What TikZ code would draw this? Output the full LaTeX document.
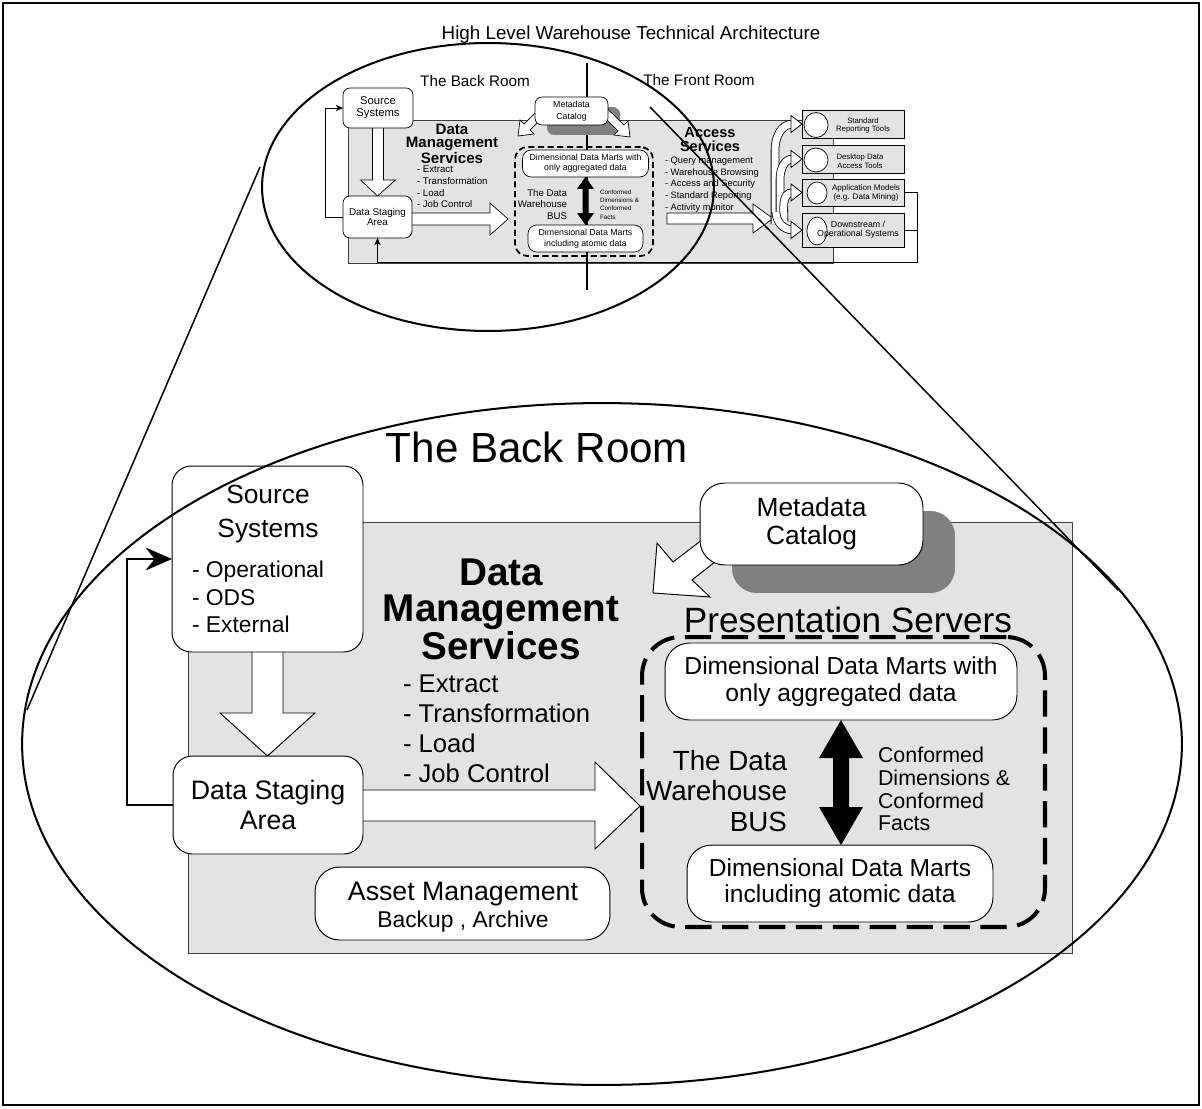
\documentclass[tikz,border=0pt]{standalone}
\usepackage{fontspec}
\setmainfont{Liberation Sans}
\usetikzlibrary{calc,arrows.meta}
\definecolor{panel}{HTML}{E3E3E3}
\definecolor{shade}{HTML}{808080}
\newcommand{\sz}[2]{\fontsize{#1}{#2}\selectfont}
\pgfdeclarelayer{bg}
\pgfdeclarelayer{mid}
\pgfdeclarelayer{top}
\pgfsetlayers{bg,mid,main,top}
\begin{document}
\begin{tikzpicture}[x=0.02cm, y=-0.02cm,
  every node/.style={inner sep=0pt, outer sep=0pt},
  wbox/.style={draw, fill=white, line width=0.55pt, align=center},
  swbox/.style={draw, fill=white, line width=0.4pt, align=center},
  blockarrow/.style={draw, fill=white, line width=0.55pt, line join=miter},
  sblockarrow/.style={draw, fill=white, line width=0.4pt, line join=miter},
  feedback/.style={line width=1.1pt, -{Stealth[length=15pt,width=13pt,inset=5pt]}},
  sfeedback/.style={line width=0.45pt, -{Stealth[length=4pt,width=3.5pt,inset=1pt]}},
  sline/.style={line width=0.45pt},
  panelrect/.style={fill=panel, draw=black!75, line width=0.5pt},
  frameline/.style={line width=1.1pt},
  ellipseline/.style={line width=1.15pt},
  zoomline/.style={line width=0.85pt},
  toolbox/.style={draw, fill=panel, line width=0.4pt, minimum width=2.04cm},
  toolicon/.style={draw, fill=white, line width=0.4pt},
  curv/.style={double=white, double distance=4pt, line width=0.45pt},
  curvhead/.style={draw, fill=white, line width=0.45pt, line join=miter},
  shadowbox/.style={fill=shade},
  presbox/.style={draw, line width=2.3pt, dash pattern=on 15pt off 6pt},
  spresbox/.style={draw, line width=1pt, dash pattern=on 3.5pt off 2pt}
]
\useasboundingbox (0,0) rectangle (1202,1108);
\draw[frameline] (3,3) rectangle (1199,1105);

% ================= overview of the whole architecture =================
\node[font=\sz{10.7}{13}] (title) at (631,35) {High Level Warehouse Technical Architecture};
\node[font=\sz{8.7}{10}] (sback) at (475,81) {The Back Room};
\node[font=\sz{8.7}{10}] (sfront) at (699,80) {The Front Room};

\coordinate (divtop) at (587,63);
\coordinate (divbot) at (587,290);
\begin{pgfonlayer}{bg}
  \draw[panelrect, line width=0.4pt] (348,120) rectangle (833,263);
  \draw[line width=0.6pt] (divtop) -- (divbot);
  \node[shadowbox, rounded corners=4pt, minimum width=1.46cm, minimum height=0.56cm] (smetashade) at (583.5,121) {};
\end{pgfonlayer}

% back room boxes
\node[swbox, rounded corners=4pt, minimum width=1.40cm, minimum height=0.80cm, font=\sz{6.4}{6.8}] (ssrc) at (378,108) {Source\\Systems};
\node[swbox, rounded corners=4pt, minimum width=1.38cm, minimum height=0.84cm, font=\sz{5.6}{5.7}] (sstg) at (377.5,217) {Data Staging\\Area};
\node[swbox, rounded corners=4pt, minimum width=1.46cm, minimum height=0.56cm, font=\sz{5}{6.8}] (smeta) at (571.5,111) {Metadata\\Catalog};
\node[spresbox, rounded corners=7pt, minimum width=2.76cm, minimum height=2.18cm] (spres) at (584,201.5) {};
\node[swbox, rounded corners=5pt, minimum width=2.52cm, minimum height=0.54cm, font=\sz{5}{5.7}] (sagg) at (585.5,163.5) {Dimensional Data Marts with\\only aggregated data};
\node[swbox, rounded corners=5pt, minimum width=2.30cm, minimum height=0.54cm, font=\sz{5}{6.3}] (satom) at (585.5,238.5) {Dimensional Data Marts\\including atomic data};

\node[font=\bfseries\sz{8.6}{7.6}, align=center] (sdms) at (452,144) {Data\\Management\\Services};
\node[font=\sz{5.5}{6.6}, align=left, anchor=west] (sdmslist) at (417,187) {- Extract\\- Transformation\\- Load\\- Job Control};
\node[font=\sz{5.5}{6.5}, align=right, anchor=east] (sbus) at (567,204.5) {The Data\\Warehouse\\BUS};
\node[font=\sz{3.6}{4.7}, align=left, anchor=west] (sconf) at (600,204.5) {Conformed\\Dimensions \&\\Conformed\\Facts};

% bus arrow between the two mart layers
\coordinate (sda1) at (sagg.south);
\coordinate (sda2) at (sagg.south |- satom.north);
\fill (sda1) -- ++(8.5,12) -- ++(-5.5,0) -- ($(sda2)+(3,-12)$) -- ++(5.5,0) -- (sda2)
      -- ++(-8.5,-12) -- ++(5.5,0) -- ($(sda1)+(-3,12)$) -- ++(-5.5,0) -- cycle;

% front room
\node[font=\bfseries\sz{8.3}{7.6}, align=center] (sacc) at (710,139.5) {Access\\Services};
\node[font=\sz{5.3}{6.66}, align=left, anchor=west] (sacclist) at (665,184.5) {- Query management\\- Warehouse Browsing\\- Access and Security\\- Standard Reporting\\- Activity monitor};

\node[toolbox, minimum height=0.56cm] (st1) at (853,124) {};
\node[toolbox, minimum height=0.56cm] (st2) at (853,159) {};
\node[toolbox, minimum height=0.54cm] (st3) at (853,192.5) {};
\node[toolbox, minimum height=0.68cm] (st4) at (853,230) {};
\draw[toolicon] ($(st1.west)+(14,1)$) ellipse [x radius=0.24cm, y radius=0.25cm];
\draw[toolicon] ($(st2.west)+(14,1)$) ellipse [x radius=0.24cm, y radius=0.24cm];
\draw[toolicon] ($(st3.west)+(15,0.5)$) ellipse [x radius=0.2cm, y radius=0.22cm];
\draw[toolicon] ($(st4.west)+(15,1)$) ellipse [x radius=0.2cm, y radius=0.28cm];
\node[font=\sz{4.4}{5.1}, align=center] (st1t) at (863,125.5) {Standard\\Reporting Tools};
\node[font=\sz{4.4}{5.1}, align=center] (st2t) at (860,161) {Desktop Data\\Access Tools};
\node[font=\sz{4.6}{5.1}, align=center] (st3t) at (866,193) {Application Models\\(e.g. Data Mining)};
\node[font=\sz{5}{5.3}, align=center] (st4t) at (858,229.5) {Downstream /\\Operational Systems};

% fan of curved arrows into the end-user tools
\coordinate (fan) at (775,220);
\draw[curv] ($(fan)+(0,4)$) -- ($(fan)+(0,-70)$) to[out=90,in=180] ($(st1.west)+(-9,0)$);
\draw[curvhead] ($(st1.west)+(-11,-8.5)$) -- (st1.west) -- ($(st1.west)+(-11,8.5)$) -- cycle;
\draw[curv] ($(fan)+(5,4)$) -- ($(fan)+(5,-40)$) to[out=90,in=180] ($(st2.west)+(-9,0)$);
\draw[curvhead] ($(st2.west)+(-11,-8.5)$) -- (st2.west) -- ($(st2.west)+(-11,8.5)$) -- cycle;
\draw[curv] ($(fan)+(9,2)$) to[out=90,in=180] ($(st3.west)+(-9,0)$);
\draw[curvhead] ($(st3.west)+(-11,-8.5)$) -- (st3.west) -- ($(st3.west)+(-11,8.5)$) -- cycle;
\draw[curv] ($(fan)+(1,-8)$) to[out=-90,in=180] ($(st4.west)+(-9,0)$);
\draw[curvhead] ($(st4.west)+(-11,-8.5)$) -- (st4.west) -- ($(st4.west)+(-11,8.5)$) -- cycle;

% feedback loops
\draw[sfeedback] (sstg.west) -- ++(-18,0) |- (ssrc.west);
\draw[sline] (st4.east) -- ++(13,0);
\draw[sfeedback] (st3.east) -- ++(13,0) |- ($(sstg.south)+(0,24.5)$) -- (sstg.south);

\begin{pgfonlayer}{mid}
  % extract / load arrows
  \draw[sblockarrow] ($(ssrc.south)+(-5.5,0)$) -- ++(0,52) -- ++(-12,0) -- (sstg.north)
        -- ($(ssrc.south)+(17.5,52)$) -- ++(-12,0) -- ++(0,-52);
  \draw[sblockarrow] ($(sstg.east)+(0,-4)$) -- ++(78,0) -- ++(0,-10) -- ($(sstg.east)+(96,2)$)
        -- ($(sstg.east)+(78,18)$) -- ++(0,-10) -- ($(sstg.east)+(0,8)$);
  % metadata arrows
  \draw[sblockarrow] ($(smeta.south west)+(3,-15)$) -- ($(smeta.south west)+(-11,-1)$) -- ($(smeta.south west)+(-15,-5)$)
        -- ($(smeta.south west)+(-17,11)$) -- ($(smeta.south west)+(-1,9)$) -- ($(smeta.south west)+(-5,5)$)
        -- ($(smeta.south west)+(9,-9)$);
  \draw[sblockarrow] ($(smeta.south east)+(-2.6,-18.2)$) -- ($(smeta.south east)+(16,0)$) -- ($(smeta.south east)+(20,-4)$)
        -- ($(smeta.south east)+(22,12)$) -- ($(smeta.south east)+(6,10)$) -- ($(smeta.south east)+(10,6)$)
        -- ($(smeta.south east)+(-8.2,-12.6)$);
  % access arrow
  \coordinate (sacc0) at (667,218.5);
  \draw[sblockarrow] ($(sacc0)+(0,-5.5)$) -- ++(86,0) -- ++(0,-9) -- ($(sacc0)+(106,0)$)
        -- ($(sacc0)+(86,14.5)$) -- ++(0,-9) -- ($(sacc0)+(0,5.5)$) -- cycle;
\end{pgfonlayer}

% ================= enlarged back room =================
\node[font=\sz{24}{28}] (bigroom) at (537,447) {The Back Room};

\begin{pgfonlayer}{bg}
  \draw[panelrect] (188,522) rectangle (1072,953);
  \node[shadowbox, rounded corners=14pt, minimum width=4.46cm, minimum height=1.64cm] (metashade) at (843.5,552) {};
\end{pgfonlayer}

\node[wbox, rounded corners=11pt, minimum width=3.82cm, minimum height=3.72cm] (src) at (267.5,559) {};
\node[font=\sz{15}{19.8}, align=center] (srctitle) at (268,514) {Source\\Systems};
\node[font=\sz{13}{15.6}, align=left, anchor=west] (srclist) at (192,597) {- Operational\\- ODS\\- External};
\node[wbox, rounded corners=11pt, minimum width=3.80cm, minimum height=1.96cm, font=\sz{15.2}{17}] (stg) at (268,805) {Data Staging\\Area};
\node[wbox, rounded corners=14pt, minimum width=4.46cm, minimum height=1.64cm, font=\sz{15}{15.9}] (meta) at (811.5,524) {Metadata\\Catalog};
\node[presbox, rounded corners=22pt, minimum width=8.06cm, minimum height=5.80cm] (pres) at (843.5,782) {};
\node[wbox, rounded corners=14pt, minimum width=7.04cm, minimum height=1.54cm, font=\sz{14}{15.3}] (agg) at (841,681.5) {Dimensional Data Marts with\\only aggregated data};
\node[wbox, rounded corners=14pt, minimum width=6.12cm, minimum height=1.54cm, font=\sz{14}{14.7}] (atom) at (840,883.5) {Dimensional Data Marts\\including atomic data};
\node[wbox, rounded corners=14pt, minimum width=5.90cm, minimum height=1.46cm] (asset) at (462.5,903.5) {};
\node[font=\sz{15.2}{17}] (assetmain) at (463,894) {Asset Management};
\node[font=\sz{13}{15}] (assetsub) at (463,922) {Backup , Archive};

\node[font=\bfseries\sz{22}{20.6}, align=center] (dms) at (501,609) {Data\\Management\\Services};
\node[font=\sz{14.6}{17}, align=left, anchor=west] (dmslist) at (403,729) {- Extract\\- Transformation\\- Load\\- Job Control};
\node[font=\sz{20}{24}] (prestitle) at (848,620) {Presentation Servers};
\node[font=\sz{15.8}{17.6}, align=right, anchor=east] (bus) at (787,791) {The Data\\Warehouse\\BUS};
\node[font=\sz{12.2}{13}, align=left, anchor=west] (conf) at (878,789) {Conformed\\Dimensions \&\\Conformed\\Facts};

% bus arrow
\coordinate (da1) at (agg.south);
\coordinate (da2) at (agg.south |- atom.north);
\fill (da1) -- ++(22,38) -- ++(-14,0) -- ($(da2)+(8,-38)$) -- ++(14,0) -- (da2)
      -- ++(-22,-38) -- ++(14,0) -- ($(da1)+(-8,38)$) -- ++(-14,0) -- cycle;

% feedback from staging back to the sources
\draw[feedback] (stg.west) -- ++(-46,0) |- (src.west);

\begin{pgfonlayer}{mid}
  \draw[blockarrow] ($(src.south)+(-15.5,0)$) -- ++(0,61) -- ++(-32,0) -- ($(stg.north)+(-0.5,0)$)
        -- ($(src.south)+(47.5,61)$) -- ++(-32,0) -- ++(0,-61);
  \draw[blockarrow] ($(stg.east)+(0,-15)$) -- ++(232,0) -- ++(0,-28) -- ($(pres.west |- stg.east)+(-2,1)$)
        -- ($(stg.east)+(232,44)$) -- ++(0,-28) -- ($(stg.east)+(0,16)$);
  \draw[blockarrow] ($(meta.south west)+(53,-64)$) -- ($(meta.south west)+(-27,-3)$) -- ($(meta.south west)+(-43,-22)$)
        -- ($(meta.south west)+(-47,28)$) -- ($(meta.south west)+(10,32)$) -- ($(meta.south west)+(-8,15)$)
        -- ($(meta.south west)+(72,-48)$);
\end{pgfonlayer}

% ================= magnifier outline =================
\coordinate (z1a) at (260,167);
\coordinate (z1b) at (27,710);
\coordinate (z2a) at (650,107);
\coordinate (z2b) at (1118,590);
\begin{pgfonlayer}{top}
  \draw[ellipseline] (488,187) ellipse [x radius=4.52cm, y radius=2.88cm];
  \draw[ellipseline] (602,744) ellipse [x radius=11.6cm, y radius=6.82cm];
  \draw[zoomline] (z1a) -- (z1b);
  \draw[zoomline] (z2a) -- (z2b);
\end{pgfonlayer}
\end{tikzpicture}
\end{document}
